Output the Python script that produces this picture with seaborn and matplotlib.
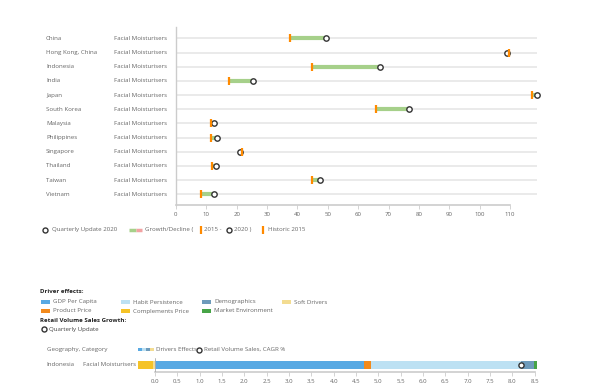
import numpy as np
import pandas as pd
import matplotlib
matplotlib.use("Agg")
import matplotlib.pyplot as plt
import matplotlib.transforms as mtransforms
import seaborn as sns

sns.set_theme(style="white")
plt.rcParams['font.family'] = ['Open Sans', 'DejaVu Sans']

# ---------------- data ----------------
countries = ["China", "Hong Kong, China", "Indonesia", "India", "Japan", "South Korea",
             "Malaysia", "Philippines", "Singapore", "Thailand", "Taiwan", "Vietnam"]
category = "Facial Moisturisers"
historic_2015 = [37.5, 109.8, 44.9, 17.6, 117.1, 66.0, 11.5, 11.4, 21.6, 11.7, 44.9, 8.3]
update_2020 = [49.3, 109.1, 67.1, 25.5, 118.9, 76.8, 12.6, 13.6, 21.1, 13.2, 47.4, 12.5]
top_ticks = list(range(0, 111, 10))

drivers = ["Soft Drivers", "Complements Price", "GDP Per Capita", "Product Price",
           "Habit Persistence", "Demographics", "Market Environment"]
driver_values = [-0.05, -0.32, 4.67, 0.16, 3.37, 0.28, 0.08]
cagr_value = 8.19
bottom_row = ("Indonesia", "Facial Moisturisers")
bottom_ticks = [i * 0.5 for i in range(18)]

driver_colors = {
    "GDP Per Capita": "#58a9e3",
    "Habit Persistence": "#bde1f3",
    "Demographics": "#6e9bbb",
    "Soft Drivers": "#f3dc91",
    "Product Price": "#f28a1c",
    "Complements Price": "#f5c327",
    "Market Environment": "#47a447",
}
legend_order = [["GDP Per Capita", "Habit Persistence", "Demographics", "Soft Drivers"],
                ["Product Price", "Complements Price", "Market Environment"]]

W, H = 600, 390
fig = plt.figure(figsize=(6, 3.9), dpi=100)
FS = 4.4
TXT = "#666666"
GRID = "#e6e6e6"
ORANGE = "#ff8a00"
GREEN = "#a6d08a"
RED = "#f2a2a2"

def fx(px):
    return px / W

def fy(py):
    return 1 - py / H

# ---------------- top chart ----------------
ax = fig.add_axes([fx(176), fy(205), fx(537) - fx(176), fy(27) - fy(205)])
df = pd.DataFrame({"country": countries, "h": historic_2015, "u": update_2020})
df["pos"] = np.arange(len(df))
ax.set_xlim(0, 118.9)
ax.set_ylim(len(df) - 0.25, -0.8)
for p in df["pos"]:
    ax.axhline(p, color=GRID, lw=1.2, zorder=0)
for _, r in df.iterrows():
    col = GREEN if r.u >= r.h else RED
    ax.plot([r.h, r.u], [r.pos, r.pos], color=col, lw=3.0, solid_capstyle="butt", zorder=2)
sns.scatterplot(data=df, x="u", y="pos", marker="o", s=15, facecolor="white",
                edgecolor="#333333", linewidth=1.0, ax=ax, zorder=3, legend=False,
                clip_on=False)
sns.scatterplot(data=df, x="h", y="pos", marker="|", s=36, linewidth=1.6,
                color=ORANGE, ax=ax, zorder=4, legend=False, clip_on=False)
ax.set_xticks(top_ticks)
ax.set_xticklabels([str(t) for t in top_ticks], fontsize=FS, color=TXT)
ax.set_yticks([])
ax.set_xlabel("")
ax.set_ylabel("")
for s in ["top", "right"]:
    ax.spines[s].set_visible(False)
ax.spines["bottom"].set_bounds(0, 110)
ax.spines["bottom"].set_color("#cccccc")
ax.spines["bottom"].set_linewidth(1.2)
ax.spines["left"].set_color("#cccccc")
ax.spines["left"].set_linewidth(1.0)
ax.tick_params(axis="x", length=3, width=0.6, color="#cccccc", pad=2, bottom=True)
lab_tr = mtransforms.blended_transform_factory(fig.transFigure, ax.transData)
for _, r in df.iterrows():
    ax.text(fx(46), r.pos, r.country, transform=lab_tr,
            fontsize=FS, color=TXT, va="center", ha="left")
    ax.text(fx(114), r.pos, category, transform=lab_tr,
            fontsize=FS, color=TXT, va="center", ha="left")

# ---------------- overlay for legends ----------------
ov = fig.add_axes([0, 0, 1, 1], zorder=10)
ov.set_xlim(0, W)
ov.set_ylim(H, 0)
ov.axis("off")
ov.patch.set_alpha(0)

def circ(x, y):
    ov.scatter([x], [y], s=13, facecolor="white", edgecolor="#333333", linewidth=1.0)

def obar(x, y):
    ov.scatter([x], [y], marker="|", s=30, color=ORANGE, linewidth=1.6)

ly = 229.5
circ(44.7, ly)
ov.text(52.5, ly, "Quarterly Update 2020", fontsize=FS, color=TXT, va="center")
ov.plot([129.3, 136], [ly, ly], color=GREEN, lw=2.5, solid_capstyle="butt")
ov.plot([136, 142], [ly, ly], color=RED, lw=2.5, solid_capstyle="butt")
ov.text(145, ly, "Growth/Decline (", fontsize=FS, color=TXT, va="center")
obar(200.7, ly)
ov.text(203.5, ly, "2015 -", fontsize=FS, color=TXT, va="center")
circ(229.3, ly)
ov.text(234, ly, "2020 )", fontsize=FS, color=TXT, va="center")
obar(263.3, ly)
ov.text(267.5, ly, "Historic 2015", fontsize=FS, color=TXT, va="center")

# driver legend
ov.text(40, 291.5, "Driver effects:", fontsize=FS, color="#222222", fontweight="bold", va="center")
col_patch = [40.5, 120.5, 202, 282]
row_y = [302, 311]
for ri, row in enumerate(legend_order):
    for ci, name in enumerate(row):
        ov.add_patch(plt.Rectangle((col_patch[ci], row_y[ri] - 2), 9, 4, color=driver_colors[name], lw=0))
        ov.text(col_patch[ci] + 12.5, row_y[ri], name, fontsize=FS, color=TXT, va="center")
ov.text(40, 320, "Retail Volume Sales Growth:", fontsize=FS, color="#222222", fontweight="bold", va="center")
circ(43.5, 329)
ov.text(49, 329, "Quarterly Update", fontsize=FS, color="#444444", va="center")

# bottom chart header
ov.text(46.7, 349.5, "Geography, Category", fontsize=FS, color=TXT, va="center")
hdr_cols = ["GDP Per Capita", "Habit Persistence", "Demographics", "Soft Drivers"]
for i, name in enumerate(hdr_cols):
    ov.add_patch(plt.Rectangle((137.5 + i * 4, 348), 4, 3, color=driver_colors[name], lw=0))
ov.text(156, 349.5, "Drivers Effects", fontsize=FS, color=TXT, va="center")
circ(198.5, 349.5)
ov.text(204, 349.5, "Retail Volume Sales, CAGR %", fontsize=FS, color=TXT, va="center")
ov.text(46.7, 365, bottom_row[0], fontsize=FS, color=TXT, va="center")
ov.text(82.7, 365, bottom_row[1], fontsize=FS, color=TXT, va="center")

# ---------------- bottom chart ----------------
bx = fig.add_axes([fx(138), fy(372), fx(541) - fx(138), fy(358) - fy(372)])
vals = np.array(driver_values)
neg = vals < 0
pos_left = np.concatenate([[0], np.cumsum(np.where(neg, 0, vals))[:-1]])
neg_left = np.concatenate([[0], np.cumsum(np.where(neg, vals, 0))[:-1]])
bdf = pd.DataFrame({"driver": drivers, "value": vals,
                    "left": np.where(neg, neg_left, pos_left)})
for _, r in bdf.iterrows():
    bx.barh(0, r.value, left=r.left, height=0.6, color=driver_colors[r.driver], lw=0, zorder=2)
bx.axvline(0, color="#aaaaaa", lw=0.6, zorder=3)
sns.scatterplot(x=[cagr_value], y=[0], marker="o", s=14, facecolor="white",
                edgecolor="#333333", linewidth=1.0, ax=bx, zorder=5, legend=False)
bx.set_xlim(-0.38, 8.64)
bx.set_ylim(-0.5, 0.5)
bx.set_yticks([])
bx.set_xticks(bottom_ticks)
bx.set_xticklabels([f"{t:.1f}" for t in bottom_ticks], fontsize=FS, color=TXT)
for s in ["top", "right", "left"]:
    bx.spines[s].set_visible(False)
bx.spines["bottom"].set_bounds(0, 8.5)
bx.spines["bottom"].set_color("#cccccc")
bx.spines["bottom"].set_linewidth(1.2)
bx.tick_params(axis="x", length=3, width=0.6, color="#cccccc", pad=2, bottom=True)
bx.patch.set_alpha(0)

fig.savefig("out.png", dpi=100)
